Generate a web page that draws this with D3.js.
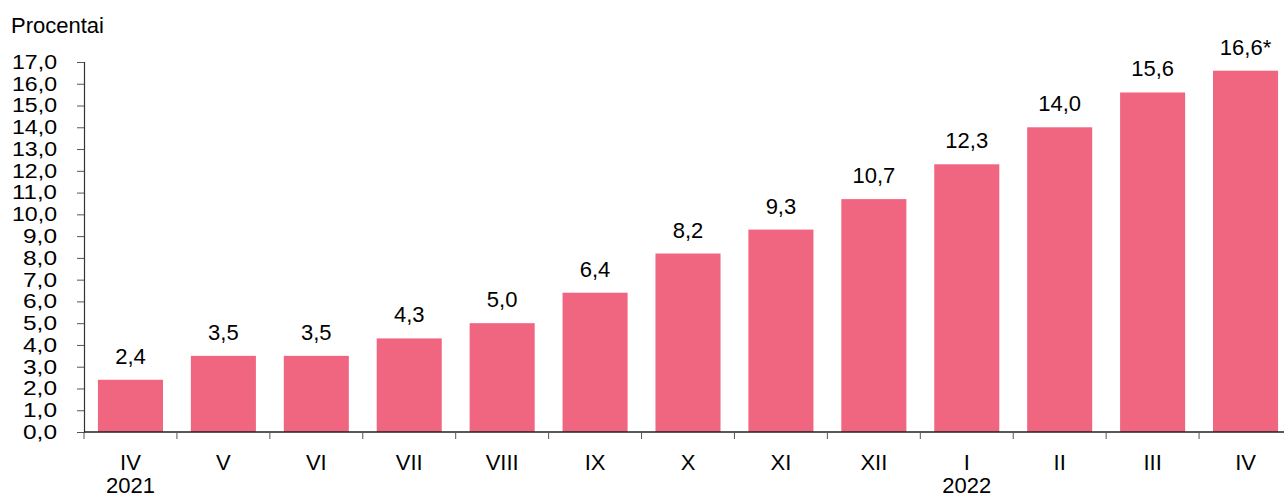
<!DOCTYPE html>
<html>
<head>
<meta charset="utf-8">
<script src="https://cdn.jsdelivr.net/npm/d3@7"></script>
<style>
  html, body { margin: 0; padding: 0; background: #fff; }
  svg { display: block; font-family: "Liberation Sans", Arial, sans-serif; }
</style>
</head>
<body>
<div id="viz"></div>
<script>
const width = 1284;
const height = 498;
const fontSize = "22px";

// data
const months = ["IV", "V", "VI", "VII", "VIII", "IX", "X", "XI", "XII", "I", "II", "III", "IV"];
const values = [2.4, 3.5, 3.5, 4.3, 5.0, 6.4, 8.2, 9.3, 10.7, 12.3, 14.0, 15.6, 16.6];
const valueNotes = ["", "", "", "", "", "", "", "", "", "", "", "", "*"];
const years = [{ idx: 0, label: "2021" }, { idx: 9, label: "2022" }];
const yTicks = d3.range(0, 18, 1);

const margin = { left: 84, top: 62, bottom: 432 };

const svg = d3.select("#viz")
  .append("svg")
  .attr("width", width)
  .attr("height", height);

const x = d3.scaleBand()
  .domain(d3.range(months.length))
  .range([margin.left, 1292])
  .paddingInner(0.3)
  .paddingOuter(0.15);

const y = d3.scaleLinear()
  .domain([0, 17])
  .range([margin.bottom, margin.top]);

const fmt = v => d3.format(".1f")(v).replace(".", ",");

// unit label
svg.append("text")
  .attr("x", 11)
  .attr("y", 33)
  .attr("font-size", fontSize)
  .attr("fill", "#000")
  .text("Procentai");

// bars
svg.selectAll("rect.bar")
  .data(values)
  .join("rect")
  .attr("class", "bar")
  .attr("x", (d, i) => x(i))
  .attr("y", d => y(d))
  .attr("width", x.bandwidth())
  .attr("height", d => y(0) - y(d))
  .attr("fill", "#f06580");

// value labels
svg.selectAll("text.val")
  .data(values)
  .join("text")
  .attr("class", "val")
  .attr("x", (d, i) => x(i) + x.bandwidth() / 2)
  .attr("y", d => y(d) - 16)
  .attr("text-anchor", "middle")
  .attr("font-size", fontSize)
  .attr("fill", "#000")
  .text((d, i) => fmt(d) + valueNotes[i]);

// y axis (labels a bit smaller so they don't collide)
const yAxis = svg.append("g")
  .attr("transform", `translate(${margin.left},0)`)
  .call(d3.axisLeft(y).tickValues(yTicks).tickFormat(fmt).tickSize(7).tickPadding(20));
yAxis.select(".domain").attr("stroke", "#333").attr("stroke-width", 1.2);
yAxis.selectAll(".tick line").attr("stroke", "#555");
yAxis.selectAll(".tick text")
  .attr("font-size", "20px")
  .attr("font-family", "Liberation Sans, Arial, sans-serif")
  .attr("fill", "#000")
  .attr("textLength", function() { return this.textContent.length === 4 ? 45 : 34; })
  .attr("lengthAdjust", "spacingAndGlyphs");

// x axis: ticks at band boundaries
const step = x.step();
const boundaries = d3.range(months.length).map(i => x(i) - step * x.paddingInner() / 2 - (i === 0 ? step * (x.paddingOuter() - x.paddingInner() / 2) : 0));
svg.append("line")
  .attr("x1", margin.left)
  .attr("x2", width)
  .attr("y1", y(0))
  .attr("y2", y(0))
  .attr("stroke", "#222")
  .attr("stroke-width", 1.5);
svg.selectAll("line.xtick")
  .data(boundaries)
  .join("line")
  .attr("class", "xtick")
  .attr("x1", d => d)
  .attr("x2", d => d)
  .attr("y1", y(0))
  .attr("y2", y(0) + 7)
  .attr("stroke", "#555");

svg.selectAll("text.month")
  .data(months)
  .join("text")
  .attr("class", "month")
  .attr("x", (d, i) => x(i) + x.bandwidth() / 2)
  .attr("y", 470)
  .attr("text-anchor", "middle")
  .attr("font-size", fontSize)
  .attr("fill", "#000")
  .text(d => d);

svg.selectAll("text.year")
  .data(years)
  .join("text")
  .attr("class", "year")
  .attr("x", d => x(d.idx) + x.bandwidth() / 2)
  .attr("y", 493)
  .attr("text-anchor", "middle")
  .attr("font-size", fontSize)
  .attr("fill", "#000")
  .text(d => d.label);
</script>
</body>
</html>
